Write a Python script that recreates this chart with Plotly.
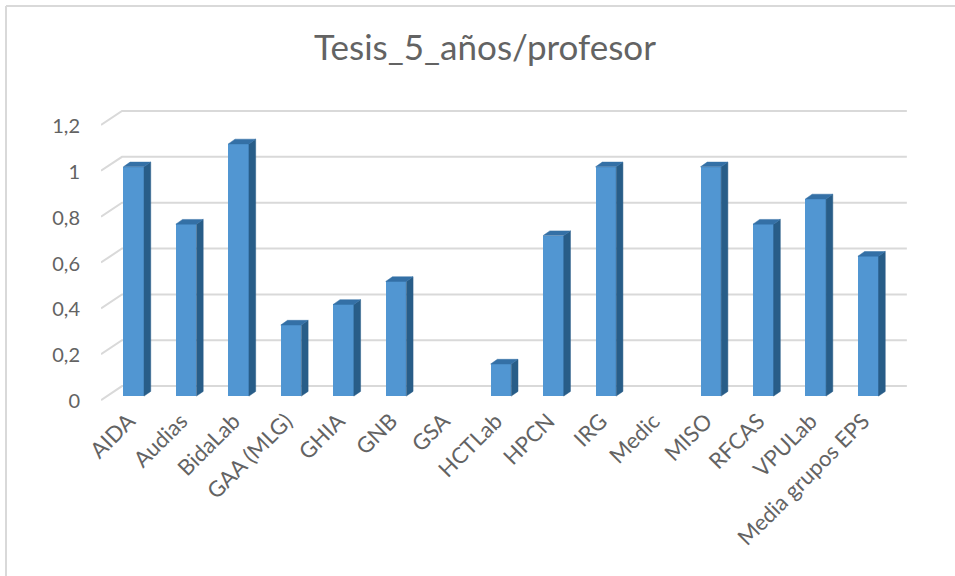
import plotly.graph_objects as go

categories = ["AIDA", "Audias", "BidaLab", "GAA (MLG)", "GHIA", "GNB", "GSA", "HCTLab",
              "HPCN", "IRG", "Medic", "MISO", "RFCAS", "VPULab", "Media grupos EPS"]
values = [1.0, 0.75, 1.1, 0.31, 0.4, 0.5, 0.0, 0.14, 0.7, 1.0, 0.0, 1.0, 0.75, 0.86, 0.61]
y_ticks = [0, 0.2, 0.4, 0.6, 0.8, 1.0, 1.2]
y_tick_labels = ["0", "0,2", "0,4", "0,6", "0,8", "1", "1,2"]
title_text = "Tesis_5_años/profesor"

W, H = 955, 576
ML, MR, MT, MB = 101, 47, 109, 173
X_RANGE = [-0.6232, 14.758]
Y_RANGE = [-0.0301, 1.2521]

FRONT = "#5196D2"
SIDE = "#285D88"
TOP = "#3470A6"
GRID = "#D9D9D9"
TXT = "#636363"
FONT = "Lato, 'Open Sans', sans-serif"

bar_w = 0.393
dx, dy = 0.128, 0.0205          # bar depth offset
floor_front = (-0.623, -0.0174)  # front-left corner offset of floor
floor_back_x, floor_back_dy = -0.223, 0.0436
grid_right = 14.736

xs = list(range(len(categories)))

fig = go.Figure()

fig.add_trace(go.Bar(
    x=xs, y=values, width=bar_w,
    marker=dict(color=FRONT, line=dict(width=0)),
    hoverinfo="x+y", showlegend=False,
))

# side and top faces of the 3D bars
side_x, side_y, top_x, top_y = [], [], [], []
for i, v in zip(xs, values):
    if v <= 0:
        continue
    r = i + bar_w / 2
    l = i - bar_w / 2
    side_x += [r, r + dx, r + dx, r, r, None]
    side_y += [0, dy, v + dy, v, 0, None]
    top_x += [l, l + dx, r + dx, r, l, None]
    top_y += [v, v + dy, v + dy, v, v, None]

fig.add_trace(go.Scatter(x=side_x, y=side_y, mode="lines", fill="toself",
                         fillcolor=SIDE, line=dict(width=0.5, color=SIDE),
                         hoverinfo="skip", showlegend=False))
fig.add_trace(go.Scatter(x=top_x, y=top_y, mode="lines", fill="toself",
                         fillcolor=TOP, line=dict(width=0.5, color=TOP),
                         hoverinfo="skip", showlegend=False))

# perspective gridlines (back wall) with diagonal floor connectors
shapes = []
for t in y_ticks:
    fx, fyo = floor_front
    path = (f"M {fx},{t + fyo} L {floor_back_x},{t + floor_back_dy} "
            f"L {grid_right},{t + floor_back_dy}")
    shapes.append(dict(type="path", path=path, xref="x", yref="y",
                       line=dict(color=GRID, width=2), layer="below"))

# chart border (left and top edges visible)
pw = W - ML - MR
ph = H - MT - MB
def px_to_paper_x(px):
    return (px - ML) / pw
def px_to_paper_y(py):
    return (H - MB - py) / ph
shapes.append(dict(type="line", xref="paper", yref="paper",
                   x0=px_to_paper_x(6), x1=px_to_paper_x(6),
                   y0=px_to_paper_y(6), y1=px_to_paper_y(H + 5),
                   line=dict(color=GRID, width=2)))
shapes.append(dict(type="line", xref="paper", yref="paper",
                   x0=px_to_paper_x(6), x1=px_to_paper_x(W + 5),
                   y0=px_to_paper_y(6), y1=px_to_paper_y(6),
                   line=dict(color=GRID, width=2)))

fig.update_layout(
    width=W, height=H,
    margin=dict(l=ML, r=MR, t=MT, b=MB, pad=0),
    paper_bgcolor="white", plot_bgcolor="white",
    title=dict(text=title_text, x=485 / W, xanchor="center",
               y=1 - 48 / H, yanchor="middle",
               font=dict(family=FONT, size=35, color=TXT)),
    xaxis=dict(range=X_RANGE, tickmode="array", tickvals=xs, ticktext=categories,
               tickangle=-45, showgrid=False, zeroline=False, showline=False,
               ticks="", ticklabelshift=-5,
               tickfont=dict(family=FONT, size=22, color=TXT),
               fixedrange=True),
    yaxis=dict(range=Y_RANGE, tickmode="array", tickvals=y_ticks, ticktext=y_tick_labels,
               showgrid=False, zeroline=False, showline=False, ticks="",
               ticklabelstandoff=20, ticklabelshift=5,
               tickfont=dict(family=FONT, size=20, color=TXT), fixedrange=True),
    shapes=shapes,
    bargap=0,
)

fig.write_html("out.html", config={"displayModeBar": False},
               post_script="document.body.style.margin='0px';")
